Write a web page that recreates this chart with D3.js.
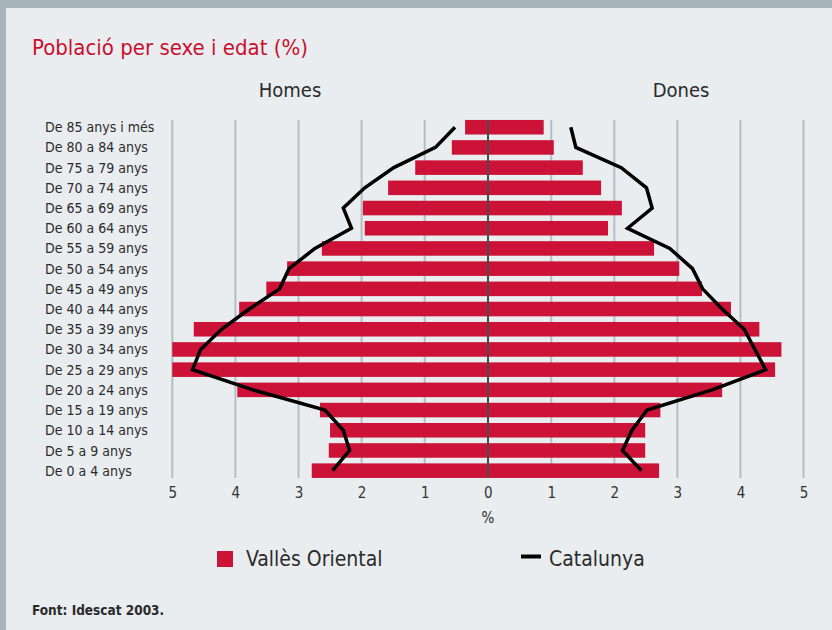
<!doctype html>
<html>
<head>
    <meta charset="utf8">
    <script src="https://d3js.org/d3.v7.min.js"></script>
    <style>
        body { margin: 0; background: #a8b4bb; }
        svg { display: block; }
        text { font-family: "Liberation Sans Narrow", "DejaVu Sans Condensed", "Arial Narrow", sans-serif; fill: #2b2b2b; }
        .bar { fill: #cc1236; }
        .grid { stroke: #b3bec5; stroke-width: 2; }
        .zero { stroke: #4a4a4a; stroke-width: 2; }
        .cat { stroke: #000; stroke-width: 3.5; fill: none; stroke-linejoin: miter; }
        .tick text { font-size: 15px; fill: #333; }
</style>
</head>
<body>
<svg width="832" height="630"></svg>
<script>

    // grups d'edat (de dalt a baix)
    var edats = ["De 85 anys i més", "De 80 a 84 anys", "De 75 a 79 anys", "De 70 a 74 anys",
        "De 65 a 69 anys", "De 60 a 64 anys", "De 55 a 59 anys", "De 50 a 54 anys",
        "De 45 a 49 anys", "De 40 a 44 anys", "De 35 a 39 anys", "De 30 a 34 anys",
        "De 25 a 29 anys", "De 20 a 24 anys", "De 15 a 19 anys", "De 10 a 14 anys",
        "De 5 a 9 anys", "De 0 a 4 anys"];

    // Vallès Oriental (%)
    var homesVO = [0.36, 0.57, 1.15, 1.58, 1.98, 1.95, 2.63, 3.18, 3.51, 3.94, 4.66, 5.0, 5.0, 3.97, 2.66, 2.5, 2.52, 2.79];
    var donesVO = [0.88, 1.04, 1.50, 1.79, 2.12, 1.90, 2.63, 3.03, 3.39, 3.85, 4.30, 4.65, 4.55, 3.71, 2.73, 2.49, 2.49, 2.71];

    // Catalunya (%)
    var homesCat = [0.52, 0.83, 1.49, 1.95, 2.29, 2.16, 2.74, 3.15, 3.30, 3.78, 4.22, 4.55, 4.68, 3.72, 2.58, 2.29, 2.19, 2.46];
    var donesCat = [1.31, 1.39, 2.11, 2.51, 2.60, 2.21, 2.88, 3.24, 3.40, 3.71, 4.06, 4.23, 4.40, 3.55, 2.52, 2.28, 2.13, 2.43];

    var ticks = [0, 1, 2, 3, 4, 5];

    var svg = d3.select("svg");

    // panell clar
    svg.append("rect")
       .attr("x", 6).attr("y", 8)
       .attr("width", 826).attr("height", 622)
       .attr("fill", "#e9edf0");

    var xL = d3.scaleLinear().domain([0, 5]).range([487.8, 172.3]),
        xR = d3.scaleLinear().domain([0, 5]).range([488.2, 803.5]),
        y = d3.scaleBand().domain(edats).range([114.3, 483.6]).padding(0.28);

    var yTop = y(edats[0]), yBottom = y(edats[edats.length - 1]) + y.bandwidth();

    svg.append("text")
       .attr("x", 32).attr("y", 55)
       .attr("font-size", "22px")
       .style("fill", "#c8102e")
       .text("Població per sexe i edat (%)");

    svg.append("text").attr("x", 290).attr("y", 97).attr("text-anchor", "middle")
       .attr("font-size", "20px").text("Homes");
    svg.append("text").attr("x", 681).attr("y", 97).attr("text-anchor", "middle")
       .attr("font-size", "20px").text("Dones");

    // graella
    var g = svg.append("g");
    g.selectAll(".gl").data(ticks.slice(1)).enter().append("line")
     .attr("class", "grid")
     .attr("x1", function(d) { return xL(d); }).attr("x2", function(d) { return xL(d); })
     .attr("y1", yTop).attr("y2", yBottom);
    g.selectAll(".gr").data(ticks.slice(1)).enter().append("line")
     .attr("class", "grid")
     .attr("x1", function(d) { return xR(d); }).attr("x2", function(d) { return xR(d); })
     .attr("y1", yTop).attr("y2", yBottom);

    // barres
    g.selectAll(".bl").data(homesVO).enter().append("rect")
     .attr("class", "bar")
     .attr("x", function(d) { return xL(d); })
     .attr("y", function(d, i) { return y(edats[i]); })
     .attr("width", function(d) { return xL(0) - xL(d); })
     .attr("height", y.bandwidth());
    g.selectAll(".br").data(donesVO).enter().append("rect")
     .attr("class", "bar")
     .attr("x", xR(0))
     .attr("y", function(d, i) { return y(edats[i]); })
     .attr("width", function(d) { return xR(d) - xR(0); })
     .attr("height", y.bandwidth());

    g.append("line").attr("class", "zero")
     .attr("x1", 488).attr("x2", 488).attr("y1", yTop).attr("y2", yBottom);

    // línies Catalunya
    var cy = function(i) { return y(edats[i]) + y.bandwidth() / 2; };
    g.append("path").attr("class", "cat")
     .attr("d", d3.line().x(function(d) { return xL(d); }).y(function(d, i) { return cy(i); })(homesCat));
    g.append("path").attr("class", "cat")
     .attr("d", d3.line().x(function(d) { return xR(d); }).y(function(d, i) { return cy(i); })(donesCat));

    // etiquetes de categoria
    svg.selectAll(".lab").data(edats).enter().append("text")
       .attr("x", 45)
       .attr("y", function(d) { return y(d) + y.bandwidth() / 2; })
       .attr("dy", "0.36em")
       .attr("font-size", "14px")
       .text(function(d) { return d; });

    // eixos
    var fmt = d3.format("d");
    svg.append("g").attr("transform", "translate(0," + 484 + ")")
       .call(d3.axisBottom(xL).tickValues(ticks).tickFormat(fmt).tickSize(0).tickPadding(0));
    svg.append("g").attr("transform", "translate(0," + 484 + ")")
       .call(d3.axisBottom(xR).tickValues(ticks.slice(1)).tickFormat(fmt).tickSize(0).tickPadding(0));
    svg.selectAll(".domain").remove();
    svg.selectAll(".tick text").attr("dy", "0.95em").attr("font-family", null);

    svg.append("text").attr("x", 488).attr("y", 523).attr("text-anchor", "middle")
       .attr("font-size", "15px").text("%");

    // llegenda
    svg.append("rect").attr("x", 217).attr("y", 551).attr("width", 16).attr("height", 16)
       .attr("fill", "#cc1236");
    svg.append("text").attr("x", 246).attr("y", 566).attr("font-size", "21px").text("Vallès Oriental");
    svg.append("line").attr("x1", 521).attr("x2", 541).attr("y1", 556.5).attr("y2", 556.5)
       .attr("stroke", "#000").attr("stroke-width", 4);
    svg.append("text").attr("x", 549).attr("y", 566).attr("font-size", "21px").text("Catalunya");

    svg.append("text").attr("x", 32).attr("y", 615)
       .attr("font-size", "13.5px").attr("font-weight", "bold")
       .text("Font: Idescat 2003.");

</script>
</body>
</html>
